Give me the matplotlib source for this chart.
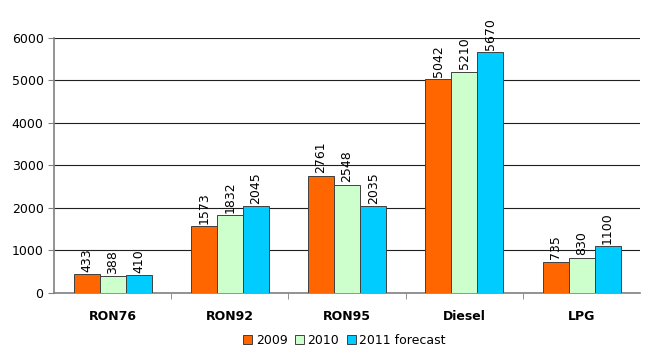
import numpy as np
import matplotlib.pyplot as plt

categories = ["RON76", "RON92", "RON95", "Diesel", "LPG"]
series_names = ["2009", "2010", "2011 forecast"]
v2009 = [433, 1573, 2761, 5042, 735]
v2010 = [388, 1832, 2548, 5210, 830]
v2011 = [410, 2045, 2035, 5670, 1100]
colors = ["#FF6600", "#CCFFCC", "#00CCFF"]

plt.rcParams['font.family'] = ['DejaVu Sans']

fig = plt.figure(figsize=(6.5, 3.58), dpi=100, facecolor='white')
ax = fig.add_axes([0.083, 0.182, 0.902, 0.712])

x = np.arange(len(categories))
w = 0.222
for k, (vals, name, c) in enumerate(zip([v2009, v2010, v2011], series_names, colors)):
    pos = x + (k - 1) * w
    ax.bar(pos, vals, width=w, color=c, edgecolor='#404040', linewidth=0.7,
           label=name, zorder=3)
    for p, v in zip(pos, vals):
        ax.text(p, v + 50, str(v), rotation=90, ha='center', va='bottom',
                fontsize=9, color='black', zorder=4)

ax.set_xlim(-0.5, len(categories) - 0.5)
ax.set_ylim(0, 6000)
ax.set_yticks(np.arange(0, 6001, 1000))
ax.yaxis.grid(True, color='#202020', linewidth=0.8, zorder=0)
ax.set_axisbelow(True)
ax.set_xticks(x)
ax.set_xticklabels(categories, fontsize=9, fontweight='bold')
ax.set_xticks(np.arange(0.5, len(categories) - 0.5, 1), minor=True)
ax.tick_params(axis='x', which='major', length=0, pad=12)
ax.tick_params(axis='x', which='minor', length=4, color='#808080')
ax.tick_params(axis='y', labelsize=9, length=4, color='#808080')
for s in ['top', 'right']:
    ax.spines[s].set_visible(False)
ax.spines['left'].set_color('#808080')
ax.spines['bottom'].set_color('#808080')
ax.spines['left'].set_linewidth(1.2)
ax.spines['bottom'].set_linewidth(1.2)

fig.legend(loc='lower center', bbox_to_anchor=(0.53, 0.0), ncol=3, frameon=False,
           fontsize=9, handlelength=0.7, handleheight=0.7, handletextpad=0.3,
           columnspacing=0.6)

fig.savefig("out.png", dpi=100, facecolor='white')
